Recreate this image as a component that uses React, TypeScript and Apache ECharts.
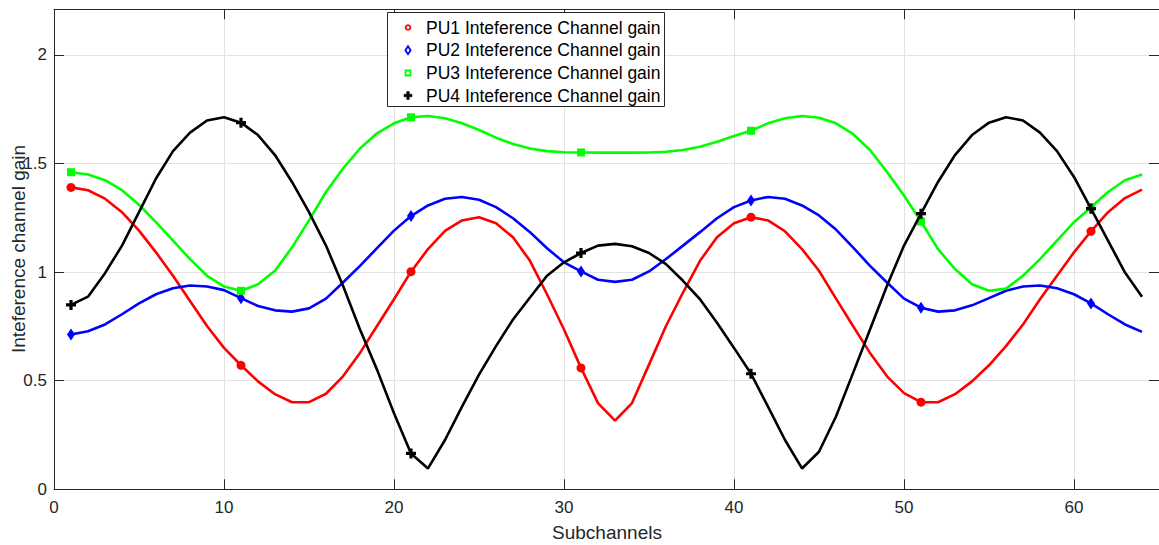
import React, { useEffect, useRef } from "react";
import * as echarts from "echarts";

const subchannels = [
  1, 2, 3, 4, 5, 6, 7, 8, 9, 10, 11, 12, 13, 14, 15, 16, 17, 18, 19, 20, 21, 22,
  23, 24, 25, 26, 27, 28, 29, 30, 31, 32, 33, 34, 35, 36, 37, 38, 39, 40, 41,
  42, 43, 44, 45, 46, 47, 48, 49, 50, 51, 52, 53, 54, 55, 56, 57, 58, 59, 60,
  61, 62, 63, 64,
];

const pu1 = [
  1.39, 1.377, 1.338, 1.276, 1.191, 1.091, 0.983, 0.867, 0.752, 0.651,
  0.571, 0.497, 0.438, 0.401, 0.401, 0.44, 0.52, 0.628, 0.752, 0.875,
  1.002, 1.106, 1.19, 1.238, 1.253, 1.225, 1.16, 1.052, 0.898, 0.736,
  0.559, 0.397, 0.316, 0.397, 0.574, 0.752, 0.906, 1.052, 1.16, 1.225,
  1.253, 1.238, 1.188, 1.106, 1.006, 0.878, 0.752, 0.628, 0.52, 0.443,
  0.401, 0.401, 0.438, 0.497, 0.571, 0.659, 0.759, 0.875, 0.983, 1.091,
  1.188, 1.276, 1.341, 1.38,
];

const pu2 = [
  0.713, 0.728, 0.759, 0.806, 0.856, 0.898, 0.926, 0.938, 0.934, 0.917,
  0.88, 0.844, 0.824, 0.818, 0.833, 0.878, 0.952, 1.029, 1.11, 1.191,
  1.258, 1.307, 1.338, 1.346, 1.333, 1.299, 1.248, 1.184, 1.11, 1.045,
  1.003, 0.965, 0.955, 0.965, 1.003, 1.06, 1.122, 1.184, 1.248, 1.299,
  1.33, 1.346, 1.338, 1.307, 1.261, 1.196, 1.114, 1.029, 0.952, 0.878,
  0.836, 0.818, 0.824, 0.847, 0.88, 0.914, 0.934, 0.938, 0.926, 0.898,
  0.856, 0.806, 0.759, 0.725,
];

const pu3 = [
  1.46, 1.449, 1.423, 1.377, 1.31, 1.23, 1.145, 1.06, 0.983, 0.934,
  0.914, 0.944, 1.006, 1.114, 1.238, 1.369, 1.477, 1.569, 1.639, 1.685,
  1.713, 1.719, 1.708, 1.685, 1.654, 1.619, 1.59, 1.569, 1.557, 1.552,
  1.551, 1.55, 1.55, 1.55, 1.551, 1.554, 1.562, 1.577, 1.6, 1.627,
  1.651, 1.685, 1.708, 1.719, 1.711, 1.685, 1.636, 1.562, 1.461, 1.353,
  1.233, 1.106, 1.014, 0.944, 0.914, 0.924, 0.983, 1.06, 1.145, 1.23,
  1.299, 1.369, 1.423, 1.449,
];

const pu4 = [
  0.849, 0.887, 0.995, 1.122, 1.276, 1.431, 1.557, 1.642, 1.698, 1.713,
  1.688, 1.631, 1.539, 1.415, 1.276, 1.122, 0.937, 0.736, 0.551, 0.35,
  0.165, 0.096, 0.227, 0.381, 0.528, 0.659, 0.782, 0.883, 0.983, 1.045,
  1.088, 1.122, 1.13, 1.119, 1.088, 1.037, 0.96, 0.875, 0.767, 0.651,
  0.532, 0.381, 0.227, 0.096, 0.173, 0.335, 0.535, 0.736, 0.937, 1.122,
  1.269, 1.415, 1.539, 1.631, 1.688, 1.713, 1.698, 1.642, 1.557, 1.438,
  1.292, 1.145, 0.998, 0.887,
];

const seriesNames = [
  "PU1 Inteference Channel gain",
  "PU2 Inteference Channel gain",
  "PU3 Inteference Channel gain",
  "PU4 Inteference Channel gain",
];
const seriesColors = ["#ff0000", "#0000ff", "#00ff00", "#000000"];
const markerEvery = 10;

const xAxisName = "Subchannels";
const yAxisName = "Inteference channel gain";

const PLUS = "path://M3.4,0H6.6V3.4H10V6.6H6.6V10H3.4V6.6H0V3.4H3.4Z";

function App() {
  const ref = useRef<HTMLDivElement>(null);

  useEffect(() => {
    if (!ref.current) return;
    const chart = echarts.init(ref.current, null, { renderer: "svg" });
    const font = '"Liberation Sans", Arial, Helvetica, sans-serif';
    const ink = "#262626";
    const gridColor = "#e2e2e2";

    const mk = (
      name: string,
      vals: number[],
      color: string,
      symbol: string,
      size: number | number[],
      z: number
    ) => ({
      type: "line",
      name,
      z,
      xAxisIndex: 0,
      yAxisIndex: 0,
      showSymbol: true,
      symbol,
      symbolSize: size,
      data: subchannels.map((x, i) => ({
        value: [x, vals[i]],
        symbol: i % markerEvery === 0 ? symbol : "none",
        symbolSize: size,
      })),
      lineStyle: { color, width: 2.6 },
      itemStyle: { color, borderWidth: 0 },
      emphasis: { disabled: true },
      animation: false,
    });

    const legendX = 387;
    const legendY = 12;
    const legendRowY = [27.5, 50.2, 73, 95.5];
    const mx = 408;
    const legendGraphics: any[] = [
      {
        type: "rect",
        shape: { x: legendX + 0.5, y: legendY + 0.5, width: 277, height: 94 },
        style: { fill: "#ffffff", stroke: ink, lineWidth: 1 },
        z: 100,
      },
      {
        type: "circle",
        shape: { cx: mx, cy: legendRowY[0], r: 2.4 },
        style: { fill: "#ffffff", stroke: seriesColors[0], lineWidth: 1.8 },
        z: 101,
      },
      {
        type: "polygon",
        shape: {
          points: [
            [mx, legendRowY[1] - 4],
            [mx + 2.6, legendRowY[1]],
            [mx, legendRowY[1] + 4],
            [mx - 2.6, legendRowY[1]],
          ],
        },
        style: { fill: "#ffffff", stroke: seriesColors[1], lineWidth: 1.8 },
        z: 101,
      },
      {
        type: "rect",
        shape: { x: mx - 2.5, y: legendRowY[2] - 2.5, width: 5, height: 5 },
        style: { fill: "#ffffff", stroke: seriesColors[2], lineWidth: 1.8 },
        z: 101,
      },
      {
        type: "polygon",
        shape: {
          points: [
            [mx - 1.3, legendRowY[3] - 4],
            [mx + 1.3, legendRowY[3] - 4],
            [mx + 1.3, legendRowY[3] - 1.3],
            [mx + 4, legendRowY[3] - 1.3],
            [mx + 4, legendRowY[3] + 1.3],
            [mx + 1.3, legendRowY[3] + 1.3],
            [mx + 1.3, legendRowY[3] + 4],
            [mx - 1.3, legendRowY[3] + 4],
            [mx - 1.3, legendRowY[3] + 1.3],
            [mx - 4, legendRowY[3] + 1.3],
            [mx - 4, legendRowY[3] - 1.3],
            [mx - 1.3, legendRowY[3] - 1.3],
          ],
        },
        style: { fill: seriesColors[3], stroke: seriesColors[3], lineWidth: 0.5 },
        z: 101,
      },
      ...seriesNames.map((n, i) => ({
        type: "text",
        x: 426,
        y: legendRowY[i],
        z: 101,
        style: {
          text: n,
          fill: "#000000",
          font: `17.5px ${font}`,
          textAlign: "left",
          textVerticalAlign: "middle",
        },
      })),
      {
        type: "text",
        x: 607,
        y: 532,
        z: 50,
        style: {
          text: xAxisName,
          fill: ink,
          font: `19px ${font}`,
          textAlign: "center",
          textVerticalAlign: "middle",
        },
      },
      {
        type: "text",
        x: 18.5,
        y: 249,
        rotation: Math.PI / 2,
        z: 50,
        style: {
          text: yAxisName,
          fill: ink,
          font: `19px ${font}`,
          textAlign: "center",
          textVerticalAlign: "middle",
        },
      },
    ];

    const baseAxisLabel = {
      color: ink,
      fontSize: 17,
      fontFamily: font,
      showMaxLabel: false,
    };

    chart.setOption({
      animation: false,
      backgroundColor: "#ffffff",
      grid: { left: 54, right: -2, top: 9.3, bottom: 55.7, containLabel: false },
      xAxis: [
        {
          type: "value",
          position: "bottom",
          min: 0,
          max: 65,
          interval: 10,
          axisLine: { show: true, onZero: false, lineStyle: { color: ink, width: 1 } },
          axisTick: { show: true, inside: true, length: 10, lineStyle: { color: ink } },
          axisLabel: { ...baseAxisLabel, margin: 10 },
          splitLine: { show: true, lineStyle: { color: gridColor, width: 1 } },
        },
        {
          type: "value",
          position: "top",
          min: 0,
          max: 65,
          interval: 10,
          axisLine: { show: true, onZero: false, lineStyle: { color: ink, width: 1 } },
          axisTick: { show: true, inside: true, length: 10, lineStyle: { color: ink } },
          axisLabel: { show: false },
          splitLine: { show: false },
        },
      ],
      yAxis: [
        {
          type: "value",
          position: "left",
          min: 0,
          max: 2.21,
          interval: 0.5,
          axisLine: { show: true, onZero: false, lineStyle: { color: ink, width: 1 } },
          axisTick: { show: true, inside: true, length: 10, lineStyle: { color: ink } },
          axisLabel: { ...baseAxisLabel, margin: 7 },
          splitLine: { show: true, lineStyle: { color: gridColor, width: 1 } },
        },
        {
          type: "value",
          position: "right",
          min: 0,
          max: 2.21,
          interval: 0.5,
          axisLine: { show: true, onZero: false, lineStyle: { color: ink, width: 1 } },
          axisTick: { show: true, inside: true, length: 10, lineStyle: { color: ink } },
          axisLabel: { show: false },
          splitLine: { show: false },
        },
      ],
      series: [
        mk(seriesNames[0], pu1, seriesColors[0], "circle", 9, 2),
        mk(seriesNames[1], pu2, seriesColors[1], "diamond", [8, 12], 3),
        mk(seriesNames[2], pu3, seriesColors[2], "rect", 8, 4),
        mk(seriesNames[3], pu4, seriesColors[3], PLUS, 10, 5),
      ],
      graphic: legendGraphics,
    });

    return () => chart.dispose();
  }, []);

  return (
    <div
      ref={ref}
      style={{ position: "fixed", left: 0, top: 0, width: 1159, height: 545, background: "#fff" }}
    />
  );
}

export default App;
